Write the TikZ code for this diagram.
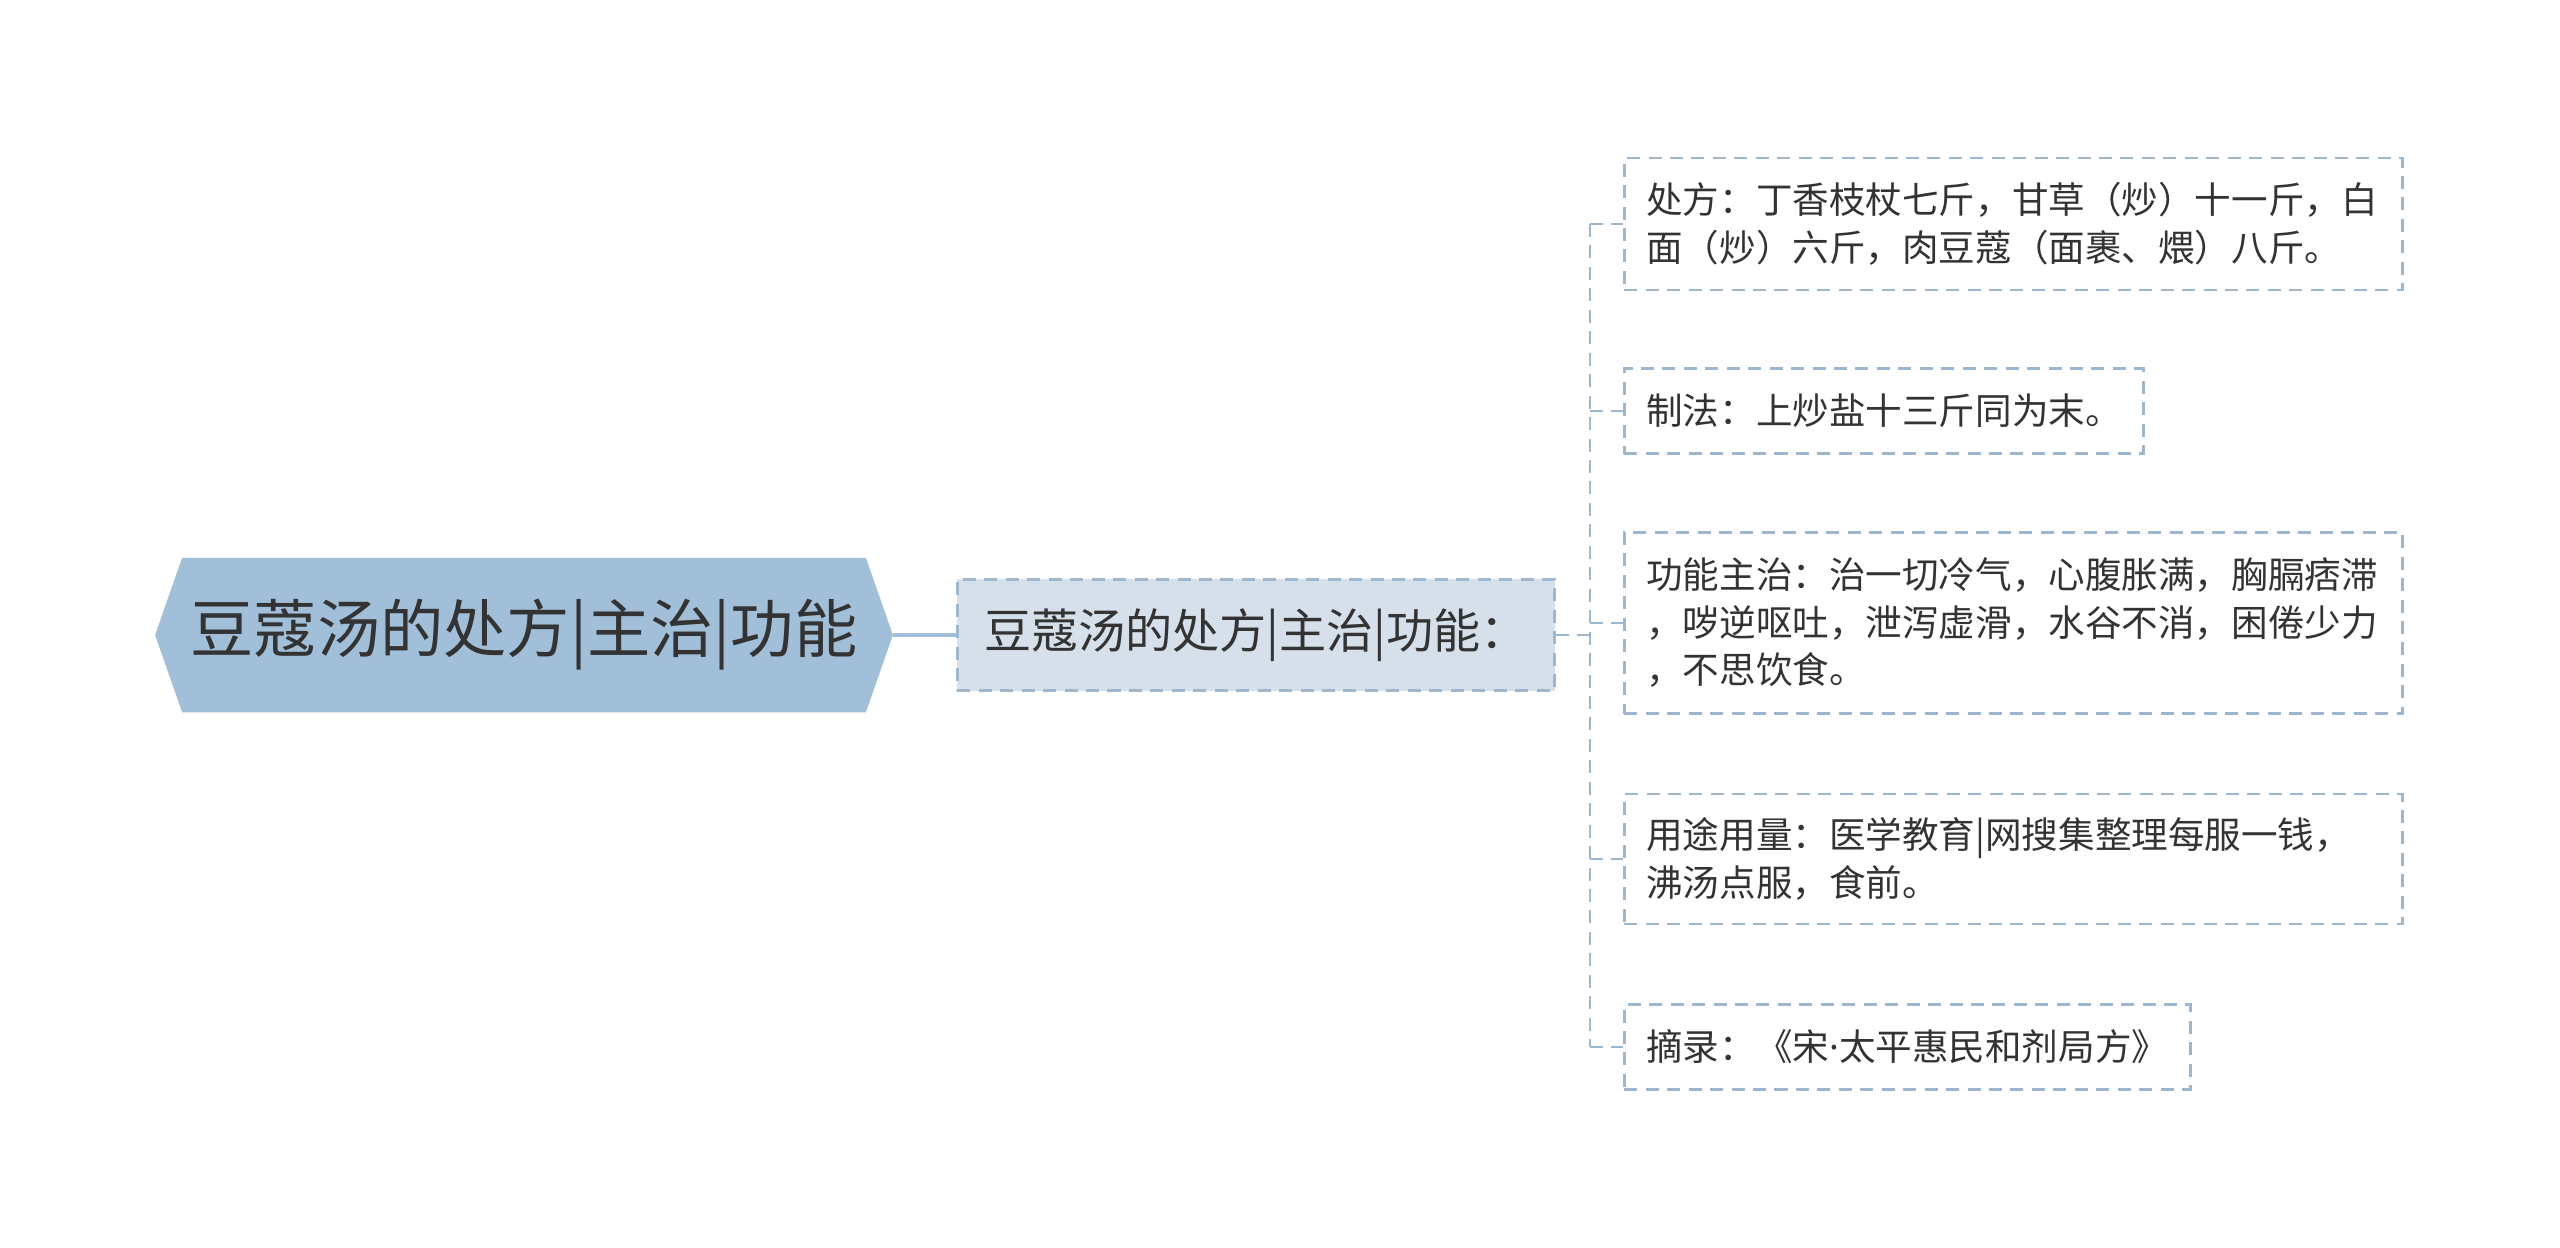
\documentclass[tikz,border=0pt]{standalone}
\usepackage{fontspec}
\newfontfamily\cjk{Noto Sans CJK SC}
\newfontfamily\latin{Noto Sans}
\usetikzlibrary{backgrounds}
\begin{document}
\begin{tikzpicture}[x=0.01cm, y=-0.01cm,
  every node/.style={font=\cjk, text=ink},
  rootbox/.style={minimum width=6.82cm, minimum height=1.53cm, inner sep=0pt,
    font=\cjk\fontsize{18pt}{21pt}\selectfont},
  subbox/.style={draw=edge, line width=0.75pt, dash pattern=on 3.7pt off 2.4pt,
    fill=subfill, minimum width=5.97cm, minimum height=1.11cm, inner sep=0pt,
    font=\cjk\fontsize{13.4pt}{16pt}\selectfont},
  leafbox/.style={draw=edge, line width=0.75pt, dash pattern=on 3.7pt off 2.4pt,
    anchor=west, align=left, inner xsep=0.22cm, inner ysep=0pt,
    font=\cjk\fontsize{10.4pt}{13.5pt}\selectfont},
  link/.style={draw=edge, line width=0.75pt, dash pattern=on 3.7pt off 2.4pt}]
\definecolor{ink}{HTML}{333333}
\definecolor{edge}{HTML}{9DB7CE}
\definecolor{rootfill}{HTML}{A2BFDA}
\definecolor{subfill}{HTML}{D5E0EA}
\useasboundingbox (0, 0) rectangle (2560, 1247);

% central topic
\node[rootbox] (root) at (524, 635) {豆蔻汤的处方|主治|功能};
\begin{scope}[on background layer]
  \fill[rootfill] (root.north west) -- (root.north east) -- ([xshift=0.27cm]root.east)
    -- (root.south east) -- (root.south west) -- ([xshift=-0.27cm]root.west) -- cycle;
\end{scope}

\node[subbox] (sub) at (1256, 635) {豆蔻汤的处方|主治|功能：};
\draw[rootfill, line width=1.4pt] ([xshift=0.27cm]root.east) -- (sub.west);

% leaves
\node[leafbox, text width=7.34cm, minimum height=1.32cm] (c1) at (1623, 224)
  {处方：丁香枝杖七斤，甘草（炒）十一斤，白\\面（炒）六斤，肉豆蔻（面裹、煨）八斤。};
\node[leafbox, text width=4.75cm, minimum height=0.85cm] (c2) at (1623, 411)
  {制法：上炒盐十三斤同为末。};
\node[leafbox, text width=7.34cm, minimum height=1.81cm] (c3) at (1623, 623)
  {功能主治：治一切冷气，心腹胀满，胸膈痞滞\\，哕逆呕吐，泄泻虚滑，水谷不消，困倦少力\\，不思饮食。};
\node[leafbox, text width=7.34cm, minimum height=1.30cm] (c4) at (1623, 859)
  {用途用量：医学教育|网搜集整理每服一钱，\\沸汤点服，食前。};
\node[leafbox, text width=5.22cm, minimum height=0.85cm] (c5) at (1623, 1047)
  {摘录：《宋{\latin ·}太平惠民和剂局方》};

\coordinate (hub) at (1590, 635);
\draw[link] (sub.east) -- (hub);
\draw[link] (hub |- c1.west) -- (hub |- c5.west);
\foreach \i in {1,...,5}
  \draw[link] (hub |- c\i.west) -- (c\i.west);

\end{tikzpicture}
\end{document}
